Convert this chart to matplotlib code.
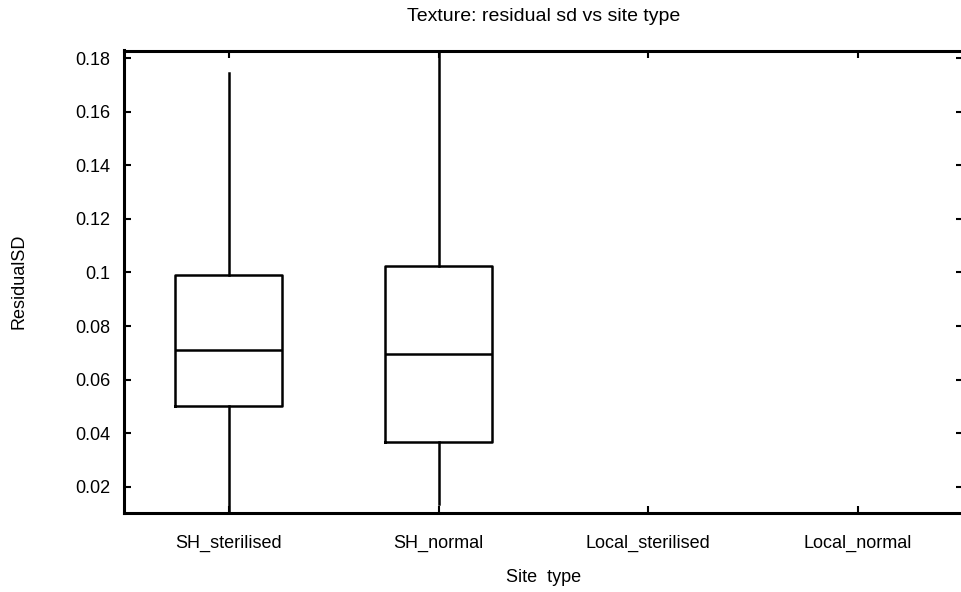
import matplotlib
matplotlib.use('Agg')
import matplotlib.pyplot as plt
import numpy as np

# Box statistics (Local_* groups have no data)
categories = ['SH_sterilised', 'SH_normal', 'Local_sterilised', 'Local_normal']
q1 = [0.0502, 0.0367]
med = [0.0711, 0.0697]
q3 = [0.0991, 0.1025]
whislo = [0.005, 0.0135]
whishi = [0.1744, 0.195]
yticks = [0.02, 0.04, 0.06, 0.08, 0.1, 0.12, 0.14, 0.16, 0.18]

plt.rcParams['font.family'] = ['Liberation Sans', 'DejaVu Sans']

fig = plt.figure(figsize=(9.61, 5.92), dpi=100)
ax = fig.add_axes([124 / 961, 1 - 513 / 592, (963 - 124) / 961, (513 - 50.5) / 592])

stats = []
for i in range(len(q1)):
    stats.append({'med': med[i], 'q1': q1[i], 'q3': q3[i],
                  'whislo': whislo[i], 'whishi': whishi[i], 'fliers': []})

line = dict(color='black', linewidth=1.8)
ax.bxp(stats, positions=np.arange(1, len(q1) + 1), widths=0.51,
       boxprops=line, medianprops=line, whiskerprops=line,
       showcaps=False, showfliers=False, manage_ticks=False)

ax.set_xlim(0.5, len(categories) + 0.5)
ax.set_ylim(0.0103, 0.1828)
ax.set_xticks(np.arange(1, len(categories) + 1))
ax.set_xticklabels(categories)
ax.set_yticks(yticks)
ax.set_yticklabels(['%g' % v for v in yticks])

ax.tick_params(direction='in', length=5, width=1.5, top=True, right=True,
               labelsize=13)
ax.tick_params(axis='y', pad=10)
ax.tick_params(axis='x', pad=16)
for s in ax.spines.values():
    s.set_linewidth(2.2)

ax.set_title('Texture: residual sd vs site type', fontsize=14, pad=21)
ax.set_xlabel('Site  type', fontsize=13, labelpad=12)
ax.set_ylabel('ResidualSD', fontsize=13, labelpad=34)

fig.savefig('out.png', dpi=100)
